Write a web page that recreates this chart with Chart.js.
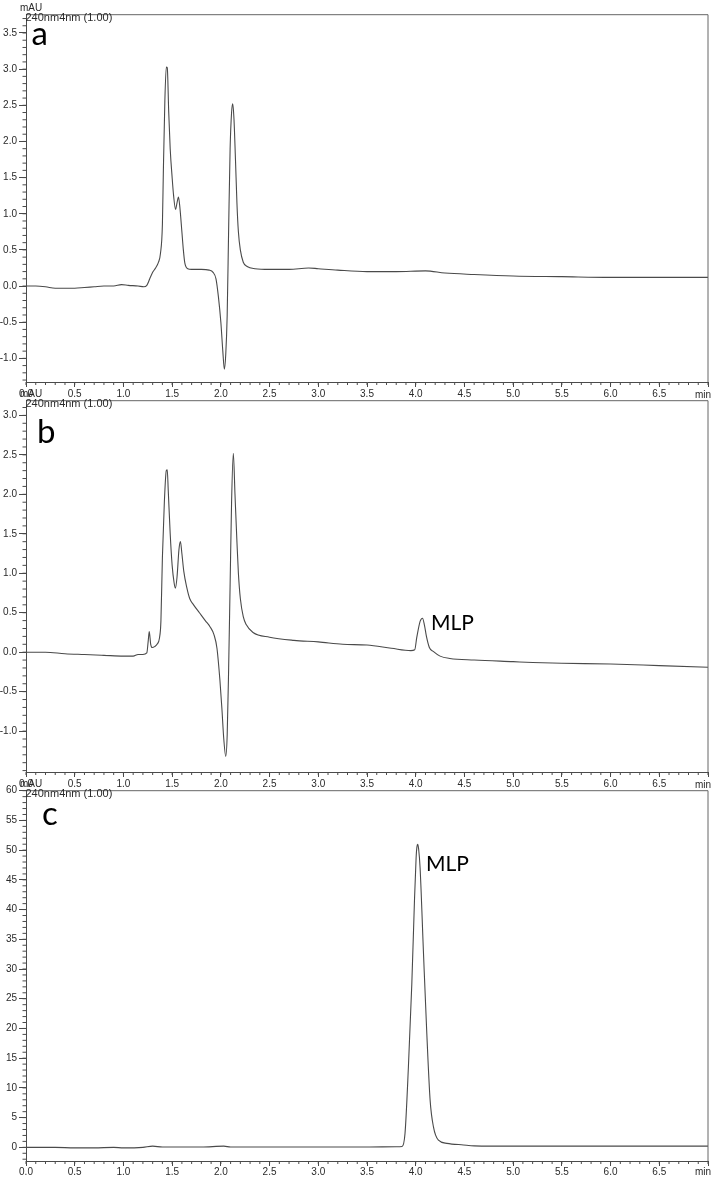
<!DOCTYPE html>
<html><head><meta charset="utf-8">
<script src="https://cdn.jsdelivr.net/npm/chart.js@4.4.0/dist/chart.umd.min.js"></script>
<style>
html,body{margin:0;padding:0;background:#fff;width:712px;height:1177px;overflow:hidden;position:relative}
canvas{position:absolute;left:0;display:block}
</style></head><body>
<canvas id="ca" width="712" height="400" style="top:0px;width:712px;height:400px"></canvas>
<canvas id="cb" width="712" height="406" style="top:386px;width:712px;height:406px"></canvas>
<canvas id="cc" width="712" height="401" style="top:776px;width:712px;height:401px"></canvas>
<script>
// ---- data (time in min, signal in mAU) ----
const timeA = [0.00,0.10,0.20,0.30,0.40,0.50,0.60,0.70,0.80,0.90,0.98,1.05,1.15,1.21,1.24,1.27,1.30,1.33,1.36,1.38,1.40,1.41,1.425,1.44,1.45,1.465,1.48,1.50,1.515,1.535,1.55,1.565,1.58,1.60,1.615,1.63,1.66,1.70,1.80,1.88,1.92,1.95,1.975,2.00,2.02,2.036,2.05,2.065,2.08,2.095,2.11,2.122,2.135,2.15,2.165,2.18,2.20,2.23,2.27,2.35,2.50,2.70,2.90,3.00,3.20,3.50,3.80,4.10,4.30,4.60,5.00,5.50,6.00,6.50,7.00];
const signalA = [0.00,0.00,-0.01,-0.03,-0.03,-0.03,-0.02,-0.01,0.00,0.00,0.02,0.01,0.00,-0.01,0.01,0.10,0.19,0.25,0.33,0.45,0.85,1.60,2.55,3.03,3.02,2.40,1.90,1.50,1.25,1.06,1.15,1.23,1.08,0.75,0.50,0.32,0.24,0.23,0.23,0.22,0.19,0.10,-0.15,-0.50,-0.90,-1.15,-0.95,-0.40,0.80,1.90,2.40,2.52,2.30,1.75,1.15,0.75,0.50,0.33,0.27,0.24,0.23,0.23,0.25,0.24,0.22,0.20,0.20,0.21,0.18,0.16,0.14,0.13,0.12,0.12,0.12];

const timeB = [0.00,0.20,0.40,0.60,0.80,1.00,1.10,1.15,1.20,1.24,1.255,1.265,1.28,1.295,1.32,1.345,1.37,1.385,1.40,1.42,1.44,1.45,1.46,1.48,1.50,1.52,1.533,1.55,1.57,1.585,1.60,1.62,1.65,1.68,1.72,1.78,1.84,1.89,1.93,1.96,1.99,2.01,2.03,2.05,2.065,2.08,2.095,2.11,2.128,2.145,2.165,2.18,2.20,2.23,2.26,2.33,2.50,2.75,3.00,3.25,3.50,3.75,3.95,3.99,4.01,4.045,4.07,4.09,4.11,4.14,4.18,4.25,4.35,4.60,5.00,5.20,5.50,6.00,6.50,7.00];
const signalB = [0.00,0.00,-0.02,-0.03,-0.04,-0.05,-0.05,-0.03,-0.03,-0.01,0.15,0.26,0.10,0.06,0.07,0.10,0.18,0.40,1.20,1.90,2.30,2.31,2.05,1.50,1.10,0.88,0.81,0.95,1.30,1.40,1.25,1.02,0.82,0.68,0.60,0.50,0.40,0.32,0.22,0.05,-0.35,-0.70,-1.10,-1.32,-1.05,-0.20,0.85,1.90,2.52,2.00,1.40,1.00,0.68,0.45,0.35,0.25,0.19,0.15,0.13,0.10,0.09,0.05,0.02,0.03,0.18,0.39,0.43,0.34,0.20,0.06,0.01,-0.05,-0.08,-0.10,-0.12,-0.13,-0.14,-0.15,-0.17,-0.19];

const timeC = [0.00,0.30,0.50,0.70,0.90,1.00,1.20,1.30,1.40,1.80,2.03,2.10,2.50,3.00,3.50,3.80,3.86,3.89,3.925,3.96,3.987,4.004,4.012,4.02,4.03,4.045,4.079,4.114,4.148,4.182,4.233,4.32,4.49,4.60,5.00,6.00,7.00];
const signalC = [0.00,0.00,-0.10,-0.10,0.00,-0.10,0.00,0.20,0.05,0.05,0.20,0.05,0.05,0.05,0.05,0.10,0.15,2.3,13.5,27.5,41.4,48.7,50.5,51.0,50.2,47.0,33.0,19.1,7.9,3.45,1.2,0.67,0.4,0.25,0.2,0.2,0.2];

const xTickValues = [0,0.5,1,1.5,2,2.5,3,3.5,4,4.5,5,5.5,6,6.5,7];
const xTickLabels = ['0.0','0.5','1.0','1.5','2.0','2.5','3.0','3.5','4.0','4.5','5.0','5.5','6.0','6.5',''];
const xUnitLabel = 'min';
const yUnitLabel = 'mAU';
const detectorLabel = '240nm4nm (1.00)';

const yTickValuesA = [-1,-0.5,0,0.5,1,1.5,2,2.5,3,3.5];
const yTickLabelsA = ['-1.0','-0.5','0.0','0.5','1.0','1.5','2.0','2.5','3.0','3.5'];
const yTickValuesB = [-1,-0.5,0,0.5,1,1.5,2,2.5,3];
const yTickLabelsB = ['-1.0','-0.5','0.0','0.5','1.0','1.5','2.0','2.5','3.0'];
const yTickValuesC = [0,5,10,15,20,25,30,35,40,45,50,55,60];
const yTickLabelsC = ['0','5','10','15','20','25','30','35','40','45','50','55','60'];

const panelLetters = ['a','b','c'];
const peakLabel = 'MLP';

// ---- drawing ----
const AXIS = '#4a4a4a';
const TXT = '#2a2a2a';

const decor = {
  id: 'decor',
  afterDraw(chart, args, o) {
    const ctx = chart.ctx, a = chart.chartArea;
    const xs = chart.scales.x, ys = chart.scales.y;
    ctx.save();
    ctx.strokeStyle = '#666'; ctx.lineWidth = 1;
    ctx.beginPath();
    ctx.moveTo(a.left, a.top); ctx.lineTo(a.right, a.top); ctx.lineTo(a.right, a.bottom);
    ctx.stroke();
    ctx.strokeStyle = AXIS;
    ctx.beginPath();
    const nx = Math.round((xs.max - xs.min) / o.xMinor);
    for (let i = 0; i <= nx; i++) {
      const px = xs.getPixelForValue(xs.min + i * o.xMinor);
      ctx.moveTo(px, a.bottom); ctx.lineTo(px, a.bottom + 3);
    }
    const y0 = Math.ceil(ys.min / o.yMinor - 1e-6), y1 = Math.floor(ys.max / o.yMinor + 1e-6);
    for (let k = y0; k <= y1; k++) {
      const py = ys.getPixelForValue(k * o.yMinor);
      ctx.moveTo(a.left - 3.5, py); ctx.lineTo(a.left, py);
    }
    ctx.stroke();
    ctx.fillStyle = TXT;
    ctx.font = '10px "Liberation Sans", Arial, sans-serif';
    ctx.textBaseline = 'alphabetic';
    ctx.textAlign = 'left';
    ctx.fillText(yUnitLabel, 20, a.top - 4);
    ctx.textAlign = 'right';
    ctx.fillText(xUnitLabel, 711, a.bottom + o.minY);
    ctx.textAlign = 'left';
    ctx.font = '11px "Liberation Sans", Arial, sans-serif';
    ctx.fillText(detectorLabel, 25.5, a.top + 6);
    ctx.fillStyle = '#000';
    ctx.font = '33px Lato, "Open Sans", sans-serif';
    ctx.fillText(o.letter, o.letterX, o.letterY);
    if (o.peak) {
      ctx.font = '21px Lato, "Open Sans", sans-serif';
      ctx.fillText(peakLabel, o.peakX, o.peakY);
    }
    ctx.restore();
  }
};

function makeChart(id, times, values, cfg) {
  const pts = times.map((t, i) => ({x: t, y: values[i]}));
  return new Chart(document.getElementById(id), {
    type: 'line',
    data: {datasets: [{data: pts, borderColor: '#4a4a4a', borderWidth: 1.1, pointRadius: 0,
                       cubicInterpolationMode: 'monotone', fill: false}]},
    options: {
      responsive: false, animation: false, events: [],
      layout: {padding: {top: cfg.top, right: 4, left: 0, bottom: 0}},
      plugins: {legend: {display: false}, tooltip: {enabled: false}, decor: cfg.decor},
      scales: {
        x: {
          type: 'linear', min: 0, max: 7,
          afterFit: s => { s.height = cfg.xh; },
          afterBuildTicks: s => { s.ticks = xTickValues.map(v => ({value: v})); },
          ticks: {callback: (v, i) => xTickLabels[i], autoSkip: false, maxRotation: 0, color: TXT, padding: cfg.xpad,
                  font: {family: '"Liberation Sans", Arial, sans-serif', size: 10}},
          grid: {drawOnChartArea: false, tickLength: 5, color: AXIS},
          border: {color: AXIS, width: 1}
        },
        y: {
          type: 'linear', min: cfg.ymin, max: cfg.ymax,
          afterFit: s => { s.width = 26; },
          afterBuildTicks: s => { s.ticks = cfg.yt.map(v => ({value: v})); },
          ticks: {callback: (v, i) => cfg.yl[i], autoSkip: false, color: TXT, padding: 2,
                  font: {family: '"Liberation Sans", Arial, sans-serif', size: 10}},
          grid: {drawOnChartArea: false, tickLength: 7, color: AXIS},
          border: {color: AXIS, width: 1}
        }
      }
    },
    plugins: [decor]
  });
}

makeChart('ca', timeA, signalA, {top: 14.7, xh: 18, xpad: 1, ymin: -1.327, ymax: 3.753, yt: yTickValuesA, yl: yTickLabelsA,
  decor: {xMinor: 0.1, yMinor: 0.1, minY: 15.5, letter: panelLetters[0], letterX: 31.5, letterY: 45}});
makeChart('cb', timeB, signalB, {top: 14.7, xh: 20, xpad: 1, ymin: -1.518, ymax: 3.186, yt: yTickValuesB, yl: yTickLabelsB,
  decor: {xMinor: 0.1, yMinor: 0.1, minY: 15.5, letter: panelLetters[1], letterX: 37, letterY: 56.7, peak: true, peakX: 431, peakY: 244}});
makeChart('cc', timeC, signalC, {top: 14.7, xh: 16, xpad: 0, ymin: -2.3, ymax: 60, yt: yTickValuesC, yl: yTickLabelsC,
  decor: {xMinor: 0.1, yMinor: 1, minY: 14, letter: panelLetters[2], letterX: 42, letterY: 49, peak: true, peakX: 426, peakY: 94.7}});
</script>
</body></html>
